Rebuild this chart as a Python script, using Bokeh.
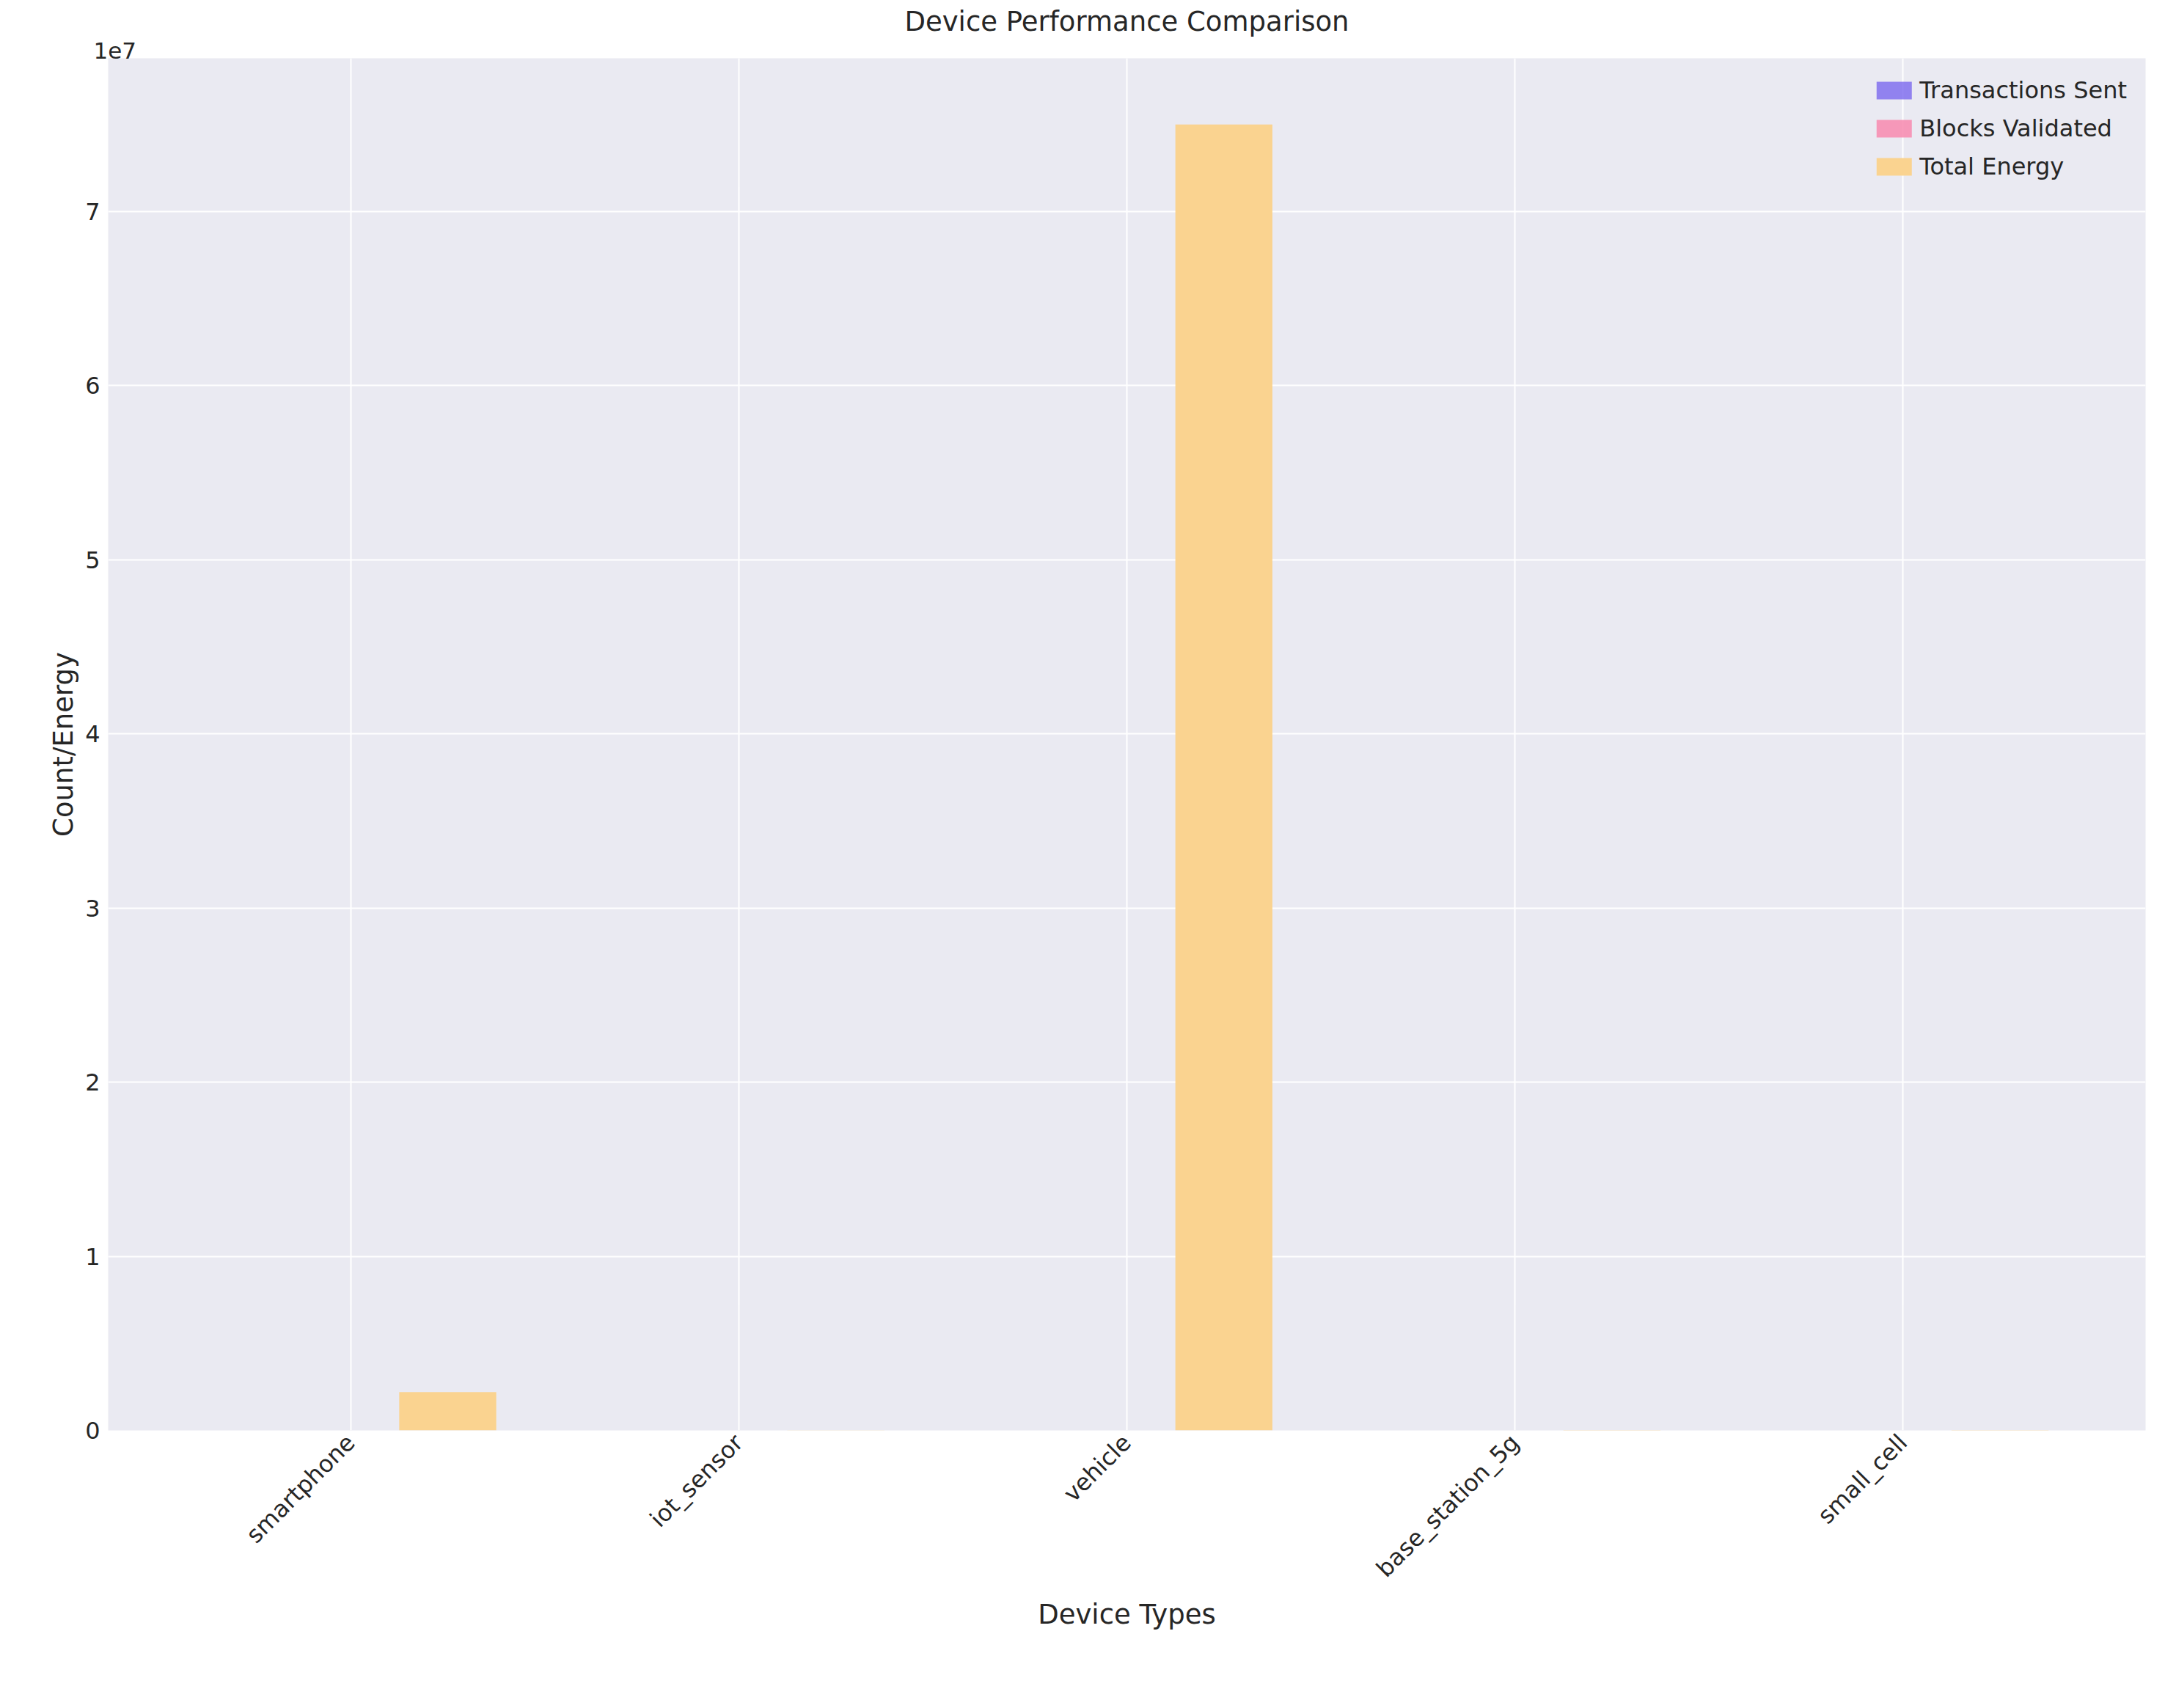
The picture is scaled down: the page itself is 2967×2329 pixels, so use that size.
import math
from bokeh.plotting import figure
from bokeh.models import FixedTicker, Range1d, Legend, LegendItem, CustomJSTickFormatter, Title
from bokeh.embed import file_html
from bokeh.resources import INLINE

devices = ["smartphone", "iot_sensor", "vehicle", "base_station_5g", "small_cell"]
transactions_sent = [120, 80, 150, 60, 70]
blocks_validated = [10, 5, 12, 40, 30]
total_energy = [2.2e6, 15000, 7.5e7, 20000, 18000]
yticks = [0, 1e7, 2e7, 3e7, 4e7, 5e7, 6e7, 7e7]

p = figure(width=2950, height=2310, output_backend="svg", toolbar_location=None,
           x_range=Range1d(-0.625, 4.625), y_range=Range1d(0, 7.88e7),
           min_border_left=147, min_border_top=20,
           min_border_right=25, min_border_bottom=360)
p.background_fill_color = "#eaeaf2"
p.border_fill_color = "white"
p.outline_line_color = None

sub = Title(text="1e7", align="left", text_font_size="31px", text_font_style="normal",
            text_font="DejaVu Sans", text_color="#262626", offset=-20, standoff=0)
p.add_layout(sub, "above")
main = Title(text="Device Performance Comparison", align="center", text_font_size="37px",
             text_font_style="normal", text_font="DejaVu Sans", text_color="#262626")
p.add_layout(main, "above")

xs = list(range(len(devices)))
r1 = p.vbar(x=[x - 0.25 for x in xs], top=transactions_sent, width=0.25, color="#7b68ee", alpha=0.8, line_color=None)
r2 = p.vbar(x=xs, top=blocks_validated, width=0.25, color="#f78fb3", alpha=0.9, line_color=None)
r3 = p.vbar(x=[x + 0.25 for x in xs], top=total_energy, width=0.25, color="#fad390", alpha=1.0, line_color=None)

p.xaxis.ticker = FixedTicker(ticks=xs)
p.xaxis.major_label_overrides = {i: d for i, d in enumerate(devices)}
p.xaxis.major_label_orientation = math.pi / 4
p.yaxis.ticker = FixedTicker(ticks=yticks)
p.yaxis.formatter = CustomJSTickFormatter(code="return (tick/1e7).toFixed(0);")
for ax in (p.xaxis, p.yaxis):
    ax.axis_line_color = None
    ax.major_tick_line_color = None
    ax.minor_tick_line_color = None
    ax.major_label_text_font_size = "32px"
    ax.major_label_text_font = "DejaVu Sans"
    ax.major_label_text_color = "#262626"
    ax.axis_label_text_font_size = "37px"
    ax.axis_label_text_font = "DejaVu Sans"
    ax.axis_label_text_font_style = "normal"
    ax.axis_label_text_color = "#262626"
p.xaxis.axis_label = "Device Types"
p.yaxis.axis_label = "Count/Energy"
p.grid.grid_line_color = "white"
p.grid.grid_line_width = 2

legend = Legend(items=[LegendItem(label="Transactions Sent", renderers=[r1]),
                       LegendItem(label="Blocks Validated", renderers=[r2]),
                       LegendItem(label="Total Energy", renderers=[r3])],
                location="top_right", background_fill_alpha=0, border_line_color=None,
                label_text_font_size="32px", label_text_font="DejaVu Sans", label_text_color="#262626",
                glyph_width=60, glyph_height=30, spacing=14, margin=25, padding=15)
p.add_layout(legend)

open("out.html", "w").write(file_html(p, INLINE))
